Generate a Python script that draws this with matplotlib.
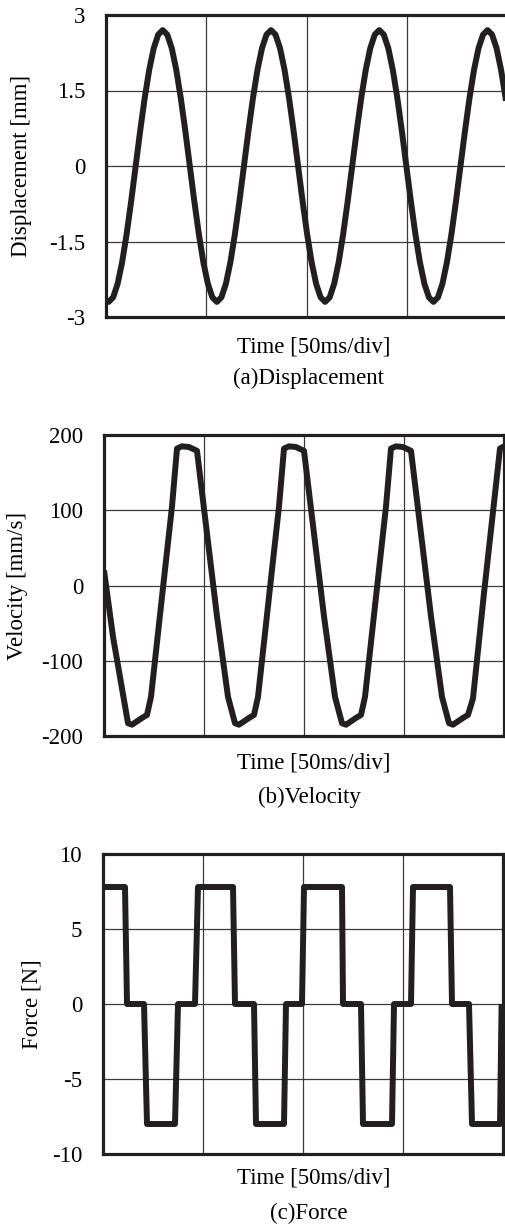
import matplotlib
matplotlib.use("Agg")
import matplotlib.pyplot as plt

plt.rcParams["font.family"] = ["Liberation Serif", "DejaVu Serif"]
plt.rcParams["axes.unicode_minus"] = False

W, H = 505, 1227
LINE = "#231f20"
FS = 16.5

# displacement [mm] vs time [ms]
disp_t = [0.0,
          1.3, 3.55, 5.8, 8.05, 10.3, 12.55, 14.8, 17.05, 19.3, 21.55, 23.8, 26.05,
          28.3, 30.55, 32.8, 35.05, 37.3, 39.55, 41.8, 44.05, 46.3, 48.55, 50.8, 53.05,
          55.3, 57.55, 59.8, 62.05, 64.3, 66.55, 68.8, 71.05, 73.3, 75.55, 77.8, 80.05,
          82.3, 84.55, 86.8, 89.05, 91.3, 93.55, 95.8, 98.05, 100.3, 102.55, 104.8, 107.05,
          109.3, 111.55, 113.8, 116.05, 118.3, 120.55, 122.8, 125.05, 127.3, 129.55, 131.8, 134.05,
          136.3, 138.55, 140.8, 143.05, 145.3, 147.55, 149.8, 152.05, 154.3, 156.55, 158.8, 161.05,
          163.3, 165.55, 167.8, 170.05, 172.3, 174.55, 176.8, 179.05, 181.3, 183.55, 185.8, 188.05,
          190.3, 192.55, 194.8, 197.05, 199.3,
          200.0]
disp_v = [-2.67,
          -2.70, -2.61, -2.34, -1.91, -1.35, -0.70, 0.00, 0.70, 1.35, 1.91, 2.34, 2.61,
          2.70, 2.61, 2.34, 1.91, 1.35, 0.70, 0.00, -0.70, -1.35, -1.91, -2.34, -2.61,
          -2.70, -2.61, -2.34, -1.91, -1.35, -0.70, 0.00, 0.70, 1.35, 1.91, 2.34, 2.61,
          2.70, 2.61, 2.34, 1.91, 1.35, 0.70, 0.00, -0.70, -1.35, -1.91, -2.34, -2.61,
          -2.70, -2.61, -2.34, -1.91, -1.35, -0.70, 0.00, 0.70, 1.35, 1.91, 2.34, 2.61,
          2.70, 2.61, 2.34, 1.91, 1.35, 0.70, 0.00, -0.70, -1.35, -1.91, -2.34, -2.61,
          -2.70, -2.61, -2.34, -1.91, -1.35, -0.70, 0.00, 0.70, 1.35, 1.91, 2.34, 2.61,
          2.70, 2.61, 2.34, 1.91, 1.35,
          1.16]

# velocity [mm/s]
vel_t = [0.0, 4.5, 12.0, 14.0, 19.0, 21.5, 23.5, 29.0, 34.0, 36.5, 39.0, 42.5, 46.5, 51.5, 56.5, 62.0,
         65.5, 67.5, 72.5, 75.0, 77.0, 82.5, 87.5, 90.0, 92.5, 96.0, 100.0, 105.0, 110.0, 115.5,
         119.0, 121.0, 126.0, 128.5, 130.5, 136.0, 141.0, 143.5, 146.0, 149.5, 153.5, 158.5, 163.5, 169.0,
         172.5, 174.5, 179.5, 182.0, 184.5, 190.0, 194.8, 198.0, 200.0]
vel_v = [20, -68, -183, -185, -176, -172, -148, -15, 105, 182, 185, 184, 179, 69, -41, -148,
         -183, -185, -176, -172, -148, -15, 105, 182, 185, 184, 179, 69, -41, -148,
         -183, -185, -176, -172, -148, -15, 105, 182, 185, 184, 179, 69, -41, -148,
         -183, -185, -176, -172, -150, -10, 105, 182, 185]

# force [N]
force_t = [0.0, 11.0, 12.0, 20.5, 22.0, 36.0, 37.5, 46.0, 47.5, 65.0, 66.0, 75.5, 76.5, 90.5, 91.5, 99.5,
           100.5, 119.5, 120.0, 129.0, 130.0, 144.5, 145.5, 154.0, 155.0, 173.5, 174.5, 183.0, 184.5,
           198.5, 199.3]
force_v = [7.8, 7.8, 0, 0, -8, -8, 0, 0, 7.8, 7.8, 0, 0, -8, -8, 0, 0,
           7.8, 7.8, 0, 0, -8, -8, 0, 0, 7.8, 7.8, 0, 0, -8,
           -8, 0]

time_ticks = [0, 50, 100, 150, 200]
time_label = "Time [50ms/div]"

panels = [
    # (t, v, ylim, yticks, yticklabels, ylabel, caption, box px (l, r, top, bottom), ylabel x, label ys)
    (disp_t, disp_v, (-3, 3), [-3, -1.5, 0, 1.5, 3], ["-3", "-1.5", "0", "1.5", "3"],
     "Displacement [mm]", "(a)Displacement", (106, 507, 15, 317), 22, (347, 378)),
    (vel_t, vel_v, (-200, 200), [-200, -100, 0, 100, 200], ["-200", "-100", "0", "100", "200"],
     "Velocity [mm/s]", "(b)Velocity", (104, 504, 435, 736), 18, (763, 797)),
    (force_t, force_v, (-10, 10), [-10, -5, 0, 5, 10], ["-10", "-5", "0", "5", "10"],
     "Force [N]", "(c)Force", (103, 503, 854, 1154), 32, (1178, 1213)),
]

fig = plt.figure(figsize=(W / 100, H / 100), dpi=100)

for t, v, ylim, yt, ytl, ylab, cap, box, ylx, (ty, cy) in panels:
    l, r, top, bot = box
    ax = fig.add_axes([l / W, 1 - bot / H, (r - l) / W, (bot - top) / H])
    ax.plot(t, v, color=LINE, lw=4.3, solid_joinstyle="round", solid_capstyle="butt", zorder=3)
    ax.set_xlim(0, 200)
    ax.set_ylim(*ylim)
    ax.set_xticks(time_ticks)
    ax.set_xticklabels([])
    ax.set_yticks(yt)
    ax.set_yticklabels(ytl, fontsize=FS)
    ax.tick_params(length=0, pad=15)
    ax.grid(True, color="#3a3a3a", lw=0.9)
    for s in ax.spines.values():
        s.set_linewidth(2.3)
        s.set_color(LINE)
        s.set_zorder(4)
    yc = (top + bot) / 2
    fig.text(ylx / W, 1 - yc / H, ylab, rotation=90, ha="center", va="center", fontsize=FS)
    fig.text(314 / W, 1 - ty / H, time_label, ha="center", va="center", fontsize=FS)
    fig.text(309 / W, 1 - cy / H, cap, ha="center", va="center", fontsize=FS)

fig.savefig("out.png", dpi=100)
